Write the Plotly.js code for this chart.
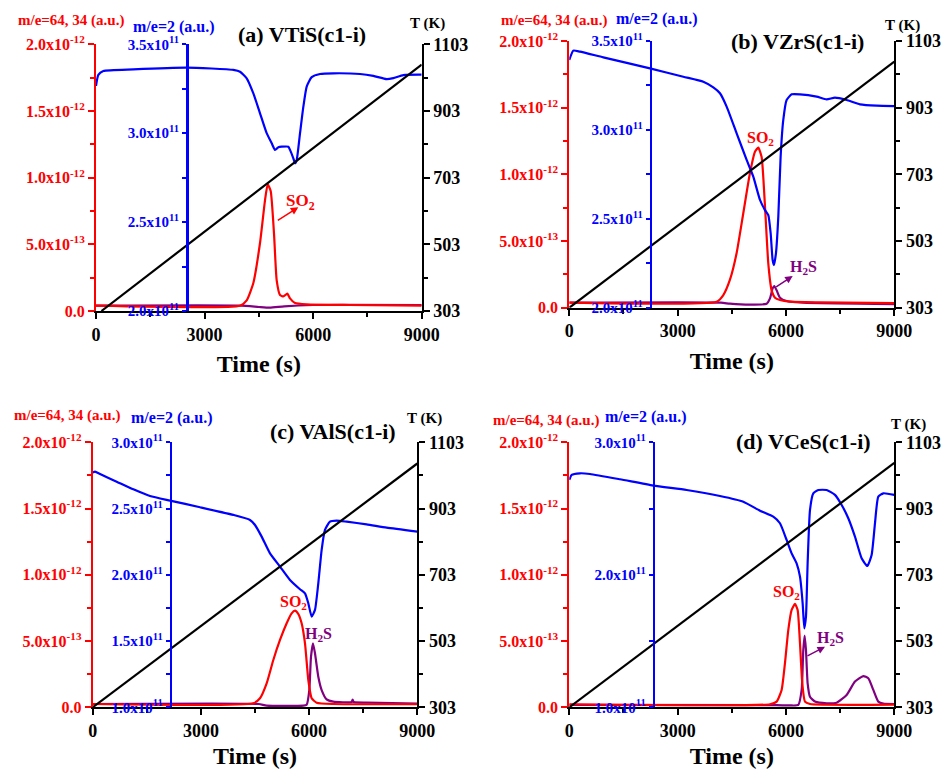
<!DOCTYPE html>
<html>
<head>
<meta charset="utf-8">
<script src="https://cdn.plot.ly/plotly-3.0.1.min.js"></script>
<style>
  html, body { margin: 0; padding: 0; background: #fff; }
  #chart { width: 946px; height: 769px; }
</style>
</head>
<body>
<div id="chart"></div>
<script>
// ---- Temperature ramps (K) ----
const tempTimeA = [150, 9000], tempA = [303, 1042];
const tempTimeB = [0, 9000],   tempB = [303, 1041];
const tempTimeC = [0, 9000],   tempC = [303, 1039];
const tempTimeD = [0, 9000],   tempD = [303, 1041];

// ---- (a) VTiS(c1-i) ----
// m/e=2 signal, in units of 1e11
const h2TimeA = [0, 64, 203, 1032, 2506, 3795, 3980, 4164, 4348, 4532, 4716, 4855, 4947, 5039, 5131, 5315, 5361, 5453, 5500, 5546, 5638, 5730, 5822, 5960, 6190, 6559, 7296, 7664, 8033, 8217, 8493, 9000];
const h2A     = [3.266, 3.328, 3.35, 3.359, 3.369, 3.356, 3.346, 3.309, 3.224, 3.112, 3.0, 2.943, 2.906, 2.921, 2.924, 2.924, 2.906, 2.859, 2.831, 2.849, 3.0, 3.149, 3.262, 3.315, 3.333, 3.337, 3.333, 3.322, 3.304, 3.31, 3.327, 3.329];
// m/e=64 (SO2), in units of 1e-12
const so2TimeA = [0, 3980, 4164, 4348, 4532, 4670, 4744, 4827, 4919, 4993, 5085, 5177, 5288, 5361, 5500, 5822, 7000, 9000];
const so2A     = [0.04, 0.04, 0.08, 0.21, 0.51, 0.83, 0.95, 0.9, 0.58, 0.23, 0.12, 0.11, 0.13, 0.095, 0.06, 0.05, 0.045, 0.04];
// m/e=34 (H2S), in units of 1e-12
const h2sTimeA = [0, 4000, 4500, 4800, 5200, 6000, 9000];
const h2sA     = [0.04, 0.04, 0.03, 0.025, 0.035, 0.045, 0.045];

// ---- (b) VZrS(c1-i) ----
const h2TimeB = [0, 111, 295, 941, 2234, 3157, 3711, 3988, 4172, 4357, 4634, 4911, 5095, 5280, 5419, 5511, 5576, 5631, 5668, 5723, 5788, 5852, 5926, 6018, 6157, 6388, 6849, 7126, 7357, 7680, 8049, 8511, 9000];
const h2B     = [3.393, 3.446, 3.44, 3.408, 3.346, 3.299, 3.271, 3.239, 3.206, 3.131, 2.981, 2.831, 2.737, 2.606, 2.549, 2.521, 2.418, 2.268, 2.24, 2.306, 2.512, 2.849, 3.056, 3.168, 3.2, 3.2, 3.187, 3.172, 3.181, 3.168, 3.144, 3.136, 3.134];
const so2TimeB = [0, 4080, 4265, 4449, 4634, 4819, 5003, 5142, 5234, 5326, 5419, 5511, 5603, 5696, 5834, 6111, 6942, 9000];
const so2B     = [0.0375, 0.045, 0.095, 0.21, 0.41, 0.71, 1.01, 1.17, 1.2, 1.13, 0.76, 0.33, 0.13, 0.075, 0.058, 0.045, 0.04, 0.035];
const h2sTimeB = [0, 4200, 4449, 5003, 5465, 5557, 5631, 5677, 5742, 5834, 6018, 6480, 9000];
const h2sB     = [0.0375, 0.0375, 0.03, 0.0225, 0.03, 0.07, 0.145, 0.1625, 0.13, 0.075, 0.05, 0.0375, 0.0275];

// ---- (c) VAlS(c1-i) ----
const h2TimeC = [0, 65, 203, 665, 1127, 1589, 2144, 2975, 3899, 4361, 4500, 4685, 4916, 5193, 5470, 5747, 5886, 5978, 6071, 6163, 6255, 6348, 6440, 6579, 6764, 7041, 7595, 8150, 9000];
const h2C     = [2.771, 2.779, 2.761, 2.703, 2.645, 2.595, 2.56, 2.51, 2.452, 2.414, 2.376, 2.288, 2.162, 2.062, 1.961, 1.891, 1.86, 1.785, 1.684, 1.735, 1.936, 2.188, 2.339, 2.401, 2.409, 2.401, 2.381, 2.356, 2.326];
const so2TimeC = [0, 4454, 4638, 4823, 5008, 5193, 5378, 5516, 5609, 5701, 5793, 5886, 5978, 6071, 6209, 6671, 9000];
const so2C     = [0.025, 0.03, 0.068, 0.18, 0.357, 0.508, 0.634, 0.709, 0.73, 0.704, 0.634, 0.483, 0.206, 0.068, 0.035, 0.025, 0.023];
const h2sTimeC = [0, 4600, 4823, 5840, 5932, 6006, 6052, 6108, 6163, 6255, 6348, 6486, 6671, 7180, 7207, 7235, 7600, 9000];
const h2sC     = [0.025, 0.025, 0.013, 0.013, 0.02, 0.13, 0.38, 0.483, 0.408, 0.231, 0.13, 0.06, 0.043, 0.04, 0.058, 0.04, 0.035, 0.028];

// ---- (d) VCeS(c1-i) ----
const h2TimeD = [0, 65, 295, 572, 1403, 2326, 3249, 4172, 4819, 5280, 5649, 5834, 6018, 6157, 6295, 6388, 6462, 6508, 6554, 6600, 6665, 6757, 6896, 7126, 7357, 7542, 7726, 7911, 8095, 8252, 8372, 8465, 8557, 8696, 9000];
const h2D     = [2.716, 2.754, 2.766, 2.761, 2.721, 2.673, 2.64, 2.595, 2.552, 2.484, 2.439, 2.389, 2.263, 2.162, 2.087, 1.986, 1.785, 1.596, 1.684, 2.087, 2.489, 2.615, 2.64, 2.64, 2.603, 2.527, 2.427, 2.288, 2.125, 2.067, 2.15, 2.389, 2.59, 2.615, 2.603];
const so2TimeD = [0, 5557, 5742, 5880, 5972, 6065, 6157, 6249, 6323, 6388, 6452, 6526, 6665, 9000];
const so2D     = [0.023, 0.023, 0.043, 0.131, 0.332, 0.584, 0.735, 0.78, 0.735, 0.483, 0.181, 0.043, 0.025, 0.02];
const h2sTimeD = [0, 5742, 6111, 6342, 6434, 6480, 6517, 6554, 6600, 6665, 6803, 7126, 7403, 7680, 7911, 8142, 8280, 8419, 8557, 8696, 9000];
const h2sD     = [0.018, 0.016, 0.014, 0.018, 0.131, 0.433, 0.541, 0.433, 0.181, 0.08, 0.043, 0.03, 0.035, 0.093, 0.194, 0.236, 0.219, 0.131, 0.043, 0.028, 0.025];

// ---- Axis tick labels ----
const timeTicks = [0, 3000, 6000, 9000];
const timeMinor = [1500, 4500, 7500];
const msTicks = [0, 0.5e-12, 1.0e-12, 1.5e-12, 2.0e-12];
const msTickText = ['0.0', '5.0x10<sup>-13</sup>', '1.0x10<sup>-12</sup>', '1.5x10<sup>-12</sup>', '2.0x10<sup>-12</sup>'];
const msMinor = [0.25e-12, 0.75e-12, 1.25e-12, 1.75e-12];
const tempTicks = [303, 503, 703, 903, 1103];
const tempMinor = [403, 603, 803, 1003];
const h2TicksAB = [2.0e11, 2.5e11, 3.0e11, 3.5e11];
const h2TextAB = ['2.0x10<sup>11</sup>', '2.5x10<sup>11</sup>', '3.0x10<sup>11</sup>', '3.5x10<sup>11</sup>'];
const h2MinorAB = [2.25e11, 2.75e11, 3.25e11];
const h2TicksC = [1.0e11, 1.5e11, 2.0e11, 2.5e11, 3.0e11];
const h2TextC = ['1.0x10<sup>11</sup>', '1.5x10<sup>11</sup>', '2.0x10<sup>11</sup>', '2.5x10<sup>11</sup>', '3.0x10<sup>11</sup>'];
const h2MinorC = [1.25e11, 1.75e11, 2.25e11, 2.75e11];
const h2TicksD = [1.0e11, 2.0e11, 3.0e11];
const h2TextD = ['1.0x10<sup>11</sup>', '2.0x10<sup>11</sup>', '3.0x10<sup>11</sup>'];
const h2MinorD = [1.5e11, 2.5e11];

const titles = ['(a) VTiS(c1-i)', '(b) VZrS(c1-i)', '(c) VAlS(c1-i)', '(d) VCeS(c1-i)'];

// ---- Page geometry (pixels on a 946 x 769 page) ----
const W = 946, H = 769;
const px = v => v / W;
const py = v => 1 - v / H;

const RED = '#ff0000', BLUE = '#0000ff', PURPLE = '#800080', BLACK = '#000000';
const FONT = 'Liberation Serif, Times New Roman, serif';

const panels = [
  { x: [96, 421.7], y: [44.3, 311], blueAt: 187, h2Range: [2.0e11, 3.5e11], h2Ticks: h2TicksAB, h2Text: h2TextAB, h2Minor: h2MinorAB,
    data: { tt: tempTimeA, t: tempA, ht: h2TimeA, h: h2A, st: so2TimeA, s: so2A, pt: h2sTimeA, p: h2sA },
    lbl: { ms: [70.8, 20.7], h2: [173.8, 26.7], title: [301.8, 34.3], T: [427.7, 23.3] } },
  { x: [569.3, 894.3], y: [41, 307.7], blueAt: 650.7, h2Range: [2.0e11, 3.5e11], h2Ticks: h2TicksAB, h2Text: h2TextAB, h2Minor: h2MinorAB,
    data: { tt: tempTimeB, t: tempB, ht: h2TimeB, h: h2B, st: so2TimeB, s: so2B, pt: h2sTimeB, p: h2sB },
    lbl: { ms: [553.5, 20.3], h2: [656.7, 19], title: [797.7, 41.7], T: [902, 25] } },
  { x: [92.7, 417.3], y: [442.3, 707.3], blueAt: 170.7, h2Range: [1.0e11, 3.0e11], h2Ticks: h2TicksC, h2Text: h2TextC, h2Minor: h2MinorC,
    data: { tt: tempTimeC, t: tempC, ht: h2TimeC, h: h2C, st: so2TimeC, s: so2C, pt: h2sTimeC, p: h2sC },
    lbl: { ms: [67, 415.7], h2: [171.7, 418.3], title: [332.8, 431.7], T: [424, 419] } },
  { x: [569.3, 894.3], y: [442.3, 707.3], blueAt: 653.7, h2Range: [1.0e11, 3.0e11], h2Ticks: h2TicksD, h2Text: h2TextD, h2Minor: h2MinorD,
    data: { tt: tempTimeD, t: tempD, ht: h2TimeD, h: h2D, st: so2TimeD, s: so2D, pt: h2sTimeD, p: h2sD },
    lbl: { ms: [546, 420.7], h2: [646, 417.3], title: [803, 441.7], T: [908, 424.3] } }
];

const traces = [];
const layout = {
  width: W, height: H,
  margin: { l: 0, r: 0, t: 0, b: 0 },
  paper_bgcolor: '#fff', plot_bgcolor: 'rgba(0,0,0,0)',
  showlegend: false,
  font: { family: FONT, color: BLACK },
  annotations: []
};

function tickFont(size, color) {
  return { family: FONT, size: size, color: color, weight: 'bold' };
}

const curve = (color) => ({ color: color, width: 2.2, shape: 'spline', smoothing: 0.5 });

panels.forEach((p, i) => {
  const xn = i === 0 ? '' : String(i + 1);
  const r = 3 * i + 1, b = 3 * i + 2, k = 3 * i + 3;
  const yr = r === 1 ? '' : String(r);
  const xId = 'x' + xn;
  const yrId = 'y' + yr, ybId = 'y' + b, ykId = 'y' + k;

  layout['xaxis' + xn] = {
    domain: [px(p.x[0]), px(p.x[1])], anchor: yrId, range: [0, 9000],
    showline: true, linecolor: BLACK, linewidth: 2, mirror: false,
    ticks: 'outside', ticklen: 6, tickwidth: 2, tickcolor: BLACK,
    tickmode: 'array', tickvals: timeTicks, ticktext: timeTicks.map(String),
    minor: { tickmode: 'array', tickvals: timeMinor, ticks: 'outside', ticklen: 4, tickwidth: 2, tickcolor: BLACK },
    tickfont: tickFont(18, BLACK),
    showgrid: false, zeroline: false,
    title: { text: '<b>Time (s)</b>', font: { family: FONT, size: 24, color: BLACK }, standoff: 12 }
  };
  layout['yaxis' + yr] = {
    domain: [py(p.y[1]), py(p.y[0])], anchor: xId, side: 'left', range: [0, 2.0e-12],
    showline: true, linecolor: RED, linewidth: 2,
    ticks: 'outside', ticklen: 6, tickwidth: 2, tickcolor: RED,
    tickmode: 'array', tickvals: msTicks, ticktext: msTickText,
    minor: { tickmode: 'array', tickvals: msMinor, ticks: 'outside', ticklen: 4, tickwidth: 2, tickcolor: RED },
    tickfont: tickFont(16, RED), showgrid: false, zeroline: false
  };
  layout['yaxis' + b] = {
    overlaying: yrId, anchor: 'free', position: px(p.blueAt), side: 'left', range: p.h2Range,
    showline: true, linecolor: BLUE, linewidth: 2.5,
    ticks: 'outside', ticklen: 4, tickwidth: 2, tickcolor: BLUE,
    tickmode: 'array', tickvals: p.h2Ticks, ticktext: p.h2Text,
    minor: { tickmode: 'array', tickvals: p.h2Minor, ticks: 'outside', ticklen: 4, tickwidth: 2, tickcolor: BLUE },
    tickfont: tickFont(15, BLUE), showgrid: false, zeroline: false
  };
  layout['yaxis' + k] = {
    overlaying: yrId, anchor: xId, side: 'right', range: [303, 1103],
    showline: true, linecolor: BLACK, linewidth: 2,
    ticks: 'outside', ticklen: 6, tickwidth: 2, tickcolor: BLACK,
    tickmode: 'array', tickvals: tempTicks, ticktext: tempTicks.map(String),
    minor: { tickmode: 'array', tickvals: tempMinor, ticks: 'outside', ticklen: 4, tickwidth: 2, tickcolor: BLACK },
    tickfont: tickFont(18, BLACK), showgrid: false, zeroline: false
  };

  const d = p.data;
  traces.push({ type: 'scatter', mode: 'lines', x: d.pt, y: d.p.map(v => v * 1e-12), xaxis: xId, yaxis: yrId,
                line: curve(PURPLE), hoverinfo: 'skip' });
  traces.push({ type: 'scatter', mode: 'lines', x: d.st, y: d.s.map(v => v * 1e-12), xaxis: xId, yaxis: yrId,
                line: curve(RED), hoverinfo: 'skip' });
  traces.push({ type: 'scatter', mode: 'lines', x: d.ht, y: d.h.map(v => v * 1e11), xaxis: xId, yaxis: ybId,
                line: curve(BLUE), hoverinfo: 'skip' });
  traces.push({ type: 'scatter', mode: 'lines', x: d.tt, y: d.t, xaxis: xId, yaxis: ykId,
                line: { color: BLACK, width: 2.2 }, hoverinfo: 'skip' });

  const L = p.lbl;
  const txt = (s, at, size, color) => ({
    text: '<b>' + s + '</b>', xref: 'paper', yref: 'paper', x: px(at[0]), y: py(at[1]),
    xanchor: 'center', yanchor: 'middle', showarrow: false,
    font: { family: FONT, size: size, color: color }
  });
  layout.annotations.push(txt('m/e=64, 34 (a.u.)', L.ms, 15, RED));
  layout.annotations.push(txt('m/e=2 (a.u.)', L.h2, 16, BLUE));
  layout.annotations.push(txt(titles[i], L.title, 22, BLACK));
  layout.annotations.push(txt('T (K)', L.T, 15, BLACK));
});

// Species labels and pointer arrows
const gasLabel = (s, at, color, size) => ({
  text: '<b>' + s + '</b>', xref: 'paper', yref: 'paper', x: px(at[0]), y: py(at[1]),
  xanchor: 'center', yanchor: 'middle', showarrow: false,
  font: { family: FONT, size: size, color: color }
});
layout.annotations.push(gasLabel('SO<sub>2</sub>', [300, 202], RED, 17));
layout.annotations.push(gasLabel('SO<sub>2</sub>', [760, 138], RED, 16));
layout.annotations.push(gasLabel('H<sub>2</sub>S', [803, 267], PURPLE, 16));
layout.annotations.push(gasLabel('SO<sub>2</sub>', [293.3, 602], RED, 16));
layout.annotations.push(gasLabel('H<sub>2</sub>S', [318.3, 634], PURPLE, 16));
layout.annotations.push(gasLabel('SO<sub>2</sub>', [786.7, 592], RED, 16));
layout.annotations.push(gasLabel('H<sub>2</sub>S', [830, 638.3], PURPLE, 16));

const pointer = (xa, ya, t, v, ax, ay, color) => ({
  text: '', xref: xa, yref: ya, x: t, y: v * 1e-12, ax: ax, ay: ay,
  showarrow: true, arrowhead: 2, arrowsize: 1, arrowwidth: 1.5, arrowcolor: color, standoff: 0, startstandoff: 0
});
layout.annotations.push(pointer('x', 'y', 5590, 0.778, -22, 14, RED));
layout.annotations.push(pointer('x2', 'y4', 6186, 0.238, -18, 12, PURPLE));
layout.annotations.push(pointer('x4', 'y10', 7081, 0.457, -19, 10, PURPLE));

Plotly.newPlot('chart', traces, layout, { staticPlot: true, displayModeBar: false });
</script>
</body>
</html>
